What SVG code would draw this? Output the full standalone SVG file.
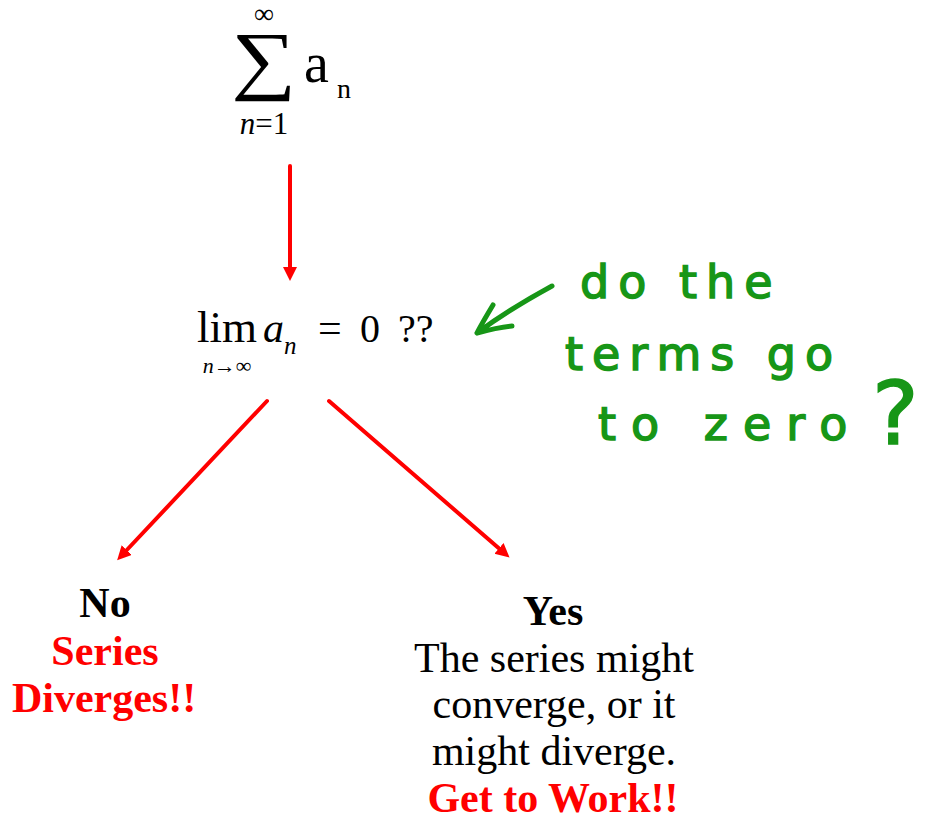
<svg xmlns="http://www.w3.org/2000/svg" width="925" height="820" viewBox="0 0 925 820">
<defs>
<marker id="ah" markerUnits="userSpaceOnUse" markerWidth="16" markerHeight="16" refX="4" refY="7" orient="auto">
<path d="M0,0 L14,7 L0,14 z" fill="#ff0000"/>
</marker>
<style>
.math{font-family:"Liberation Serif","Times New Roman",serif;fill:#000}
.it{font-style:italic}
.lbl{font-family:"Liberation Serif","Times New Roman",serif;font-size:42px;text-anchor:middle}
.b{font-weight:bold}
.red{fill:#ff0000}
.conn{stroke:#ff0000;stroke-width:4;fill:none;stroke-linecap:round}
.hand{font-family:"DejaVu Sans",sans-serif;fill:#179617;stroke:#179617;stroke-width:1.5}
.handline{stroke:#179617;stroke-width:5;fill:none;stroke-linecap:round;stroke-linejoin:round}
</style>
</defs>
<rect width="925" height="820" fill="#fff"/>

<g id="sum">
<text class="math" x="264" y="23" font-size="28" text-anchor="middle">∞</text>
<text class="math" transform="translate(264,85) scale(1.2,1)" x="0" y="0" font-size="76" text-anchor="middle">∑</text>
<text class="math" x="304" y="82" font-size="56">a</text>
<text class="math" x="337" y="98" font-size="28">n</text>
<text class="math" x="264" y="134" font-size="31" text-anchor="middle"><tspan class="it">n</tspan>=1</text>
</g>

<g id="limit">
<text class="math" x="197" y="342" font-size="45">lim</text>
<text class="math it" x="263" y="342" font-size="42">a</text>
<text class="math it" x="284" y="354" font-size="25">n</text>
<text class="math" x="227" y="373" font-size="22" text-anchor="middle"><tspan class="it">n</tspan>→∞</text>
<text class="math" x="318" y="342" font-size="42">=</text>
<text class="math" x="360" y="342" font-size="40">0</text>
<text class="math" x="398" y="342" font-size="40">??</text>
</g>

<g id="note">
<path class="handline" d="M552,286 C530,298 500,316 477,333 M493,305 C487,315 481,325 477,333 C488,330 500,327 512,326"/>
<text class="hand" x="580" y="298" style="font-size:46px;letter-spacing:9px">do the</text>
<text class="hand" x="565" y="370" style="font-size:46px;letter-spacing:9px">terms go</text>
<text class="hand" x="598" y="440" style="font-size:46px;letter-spacing:15px">to zero</text>
<text class="hand" x="872" y="444" style="font-size:88px">?</text>
</g>

<g id="no">
<text class="lbl b" x="105" y="617">No</text>
<text class="lbl b red" x="105" y="665">Series</text>
<text class="lbl b red" x="104" y="712">Diverges!!</text>
</g>

<g id="yes">
<text class="lbl b" x="553" y="625">Yes</text>
<text class="lbl" x="554" y="672">The series might</text>
<text class="lbl" x="554" y="718">converge, or it</text>
<text class="lbl" x="554" y="765">might diverge.</text>
<text class="lbl b red" x="553" y="812">Get to Work!!</text>
</g>

<g id="connectors">
<line class="conn" x1="290" y1="166" x2="290" y2="271" marker-end="url(#ah)"/>
<line class="conn" x1="267" y1="401" x2="124" y2="553" marker-end="url(#ah)"/>
<line class="conn" x1="329" y1="401" x2="502" y2="551" marker-end="url(#ah)"/>
</g>
</svg>
